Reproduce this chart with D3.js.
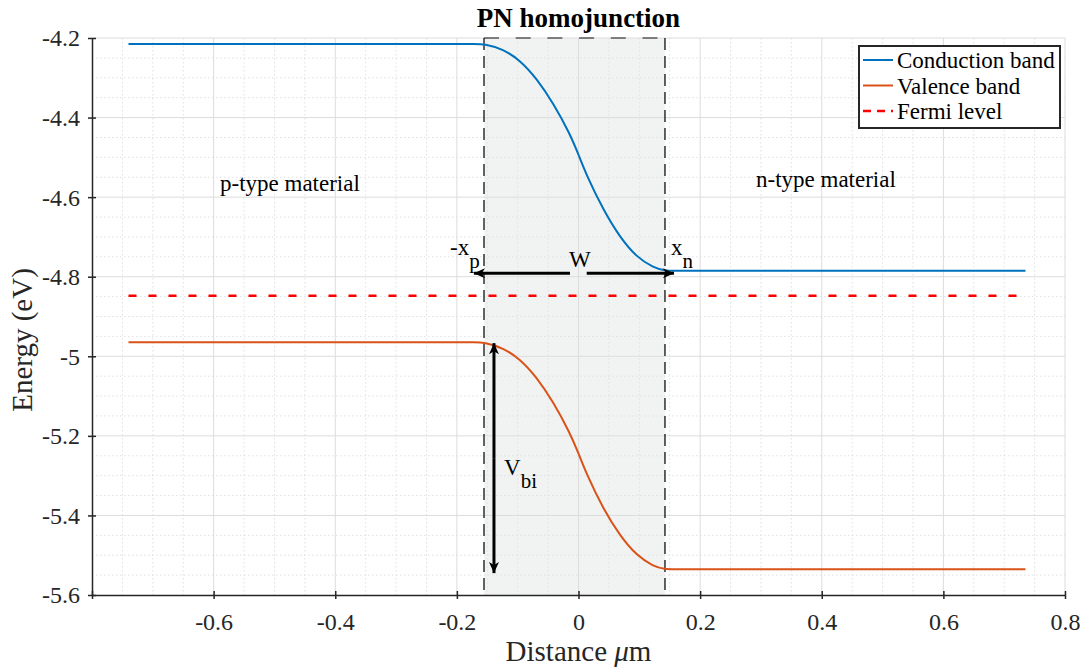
<!DOCTYPE html>
<html><head><meta charset="utf-8">
<script src="https://cdn.jsdelivr.net/npm/d3@7"></script>
<style>
html,body{margin:0;padding:0;background:#fff;}
text{font-family:"Liberation Serif","Times New Roman",serif;fill:#262626;}
</style></head>
<body><svg id="chart" width="1085" height="669"></svg>
<script>
// ---- data ----
const xTicks = [-0.8, -0.6, -0.4, -0.2, 0, 0.2, 0.4, 0.6, 0.8];
const xTickLabels = ["", "-0.6", "-0.4", "-0.2", "0", "0.2", "0.4", "0.6", "0.8"];
const yTicks = [-4.2, -4.4, -4.6, -4.8, -5, -5.2, -5.4, -5.6];
const yTickLabels = ["-4.2", "-4.4", "-4.6", "-4.8", "-5", "-5.2", "-5.4", "-5.6"];
const xBand = [-0.74, -0.20, -0.17, -0.1554, -0.1236, -0.0962, -0.0687, -0.0414, -0.014, 0, 0.0135, 0.0408, 0.0682, 0.0957, 0.123, 0.1422, 0.157, 0.19, 0.735];
const conduction = [-4.215, -4.215, -4.215, -4.215, -4.228, -4.256, -4.302, -4.364, -4.441, -4.493, -4.546, -4.632, -4.701, -4.751, -4.777, -4.785, -4.785, -4.785, -4.785];
const valence = [-4.965, -4.965, -4.965, -4.965, -4.979, -5.007, -5.053, -5.115, -5.193, -5.244, -5.297, -5.384, -5.451, -5.501, -5.528, -5.535, -5.535, -5.535, -5.535];
const xFermi = [-0.74, 0.735];
const fermi = [-4.848, -4.848];
const junction = [-0.1554, 0.1422];      // -xp, xn
const seriesNames = ["Conduction band", "Valence band", "Fermi level"];
const seriesColors = ["#0072BD", "#D95319", "#FF0000"];
// annotation anchors (data units)
const wArrowY = -4.791;
const wArrowLeft = [-0.014, -0.172];
const wArrowRight = [0.0135, 0.157];
const vbiX = -0.139;
const vbiRange = [-4.967, -5.545];

// ---- layout ----
const svg = d3.select("#chart");
const M = {l: 92, r: 1065, t: 38, b: 595};
const x = d3.scaleLinear().domain([-0.8, 0.8]).range([M.l, M.r]);
const y = d3.scaleLinear().domain([-5.6, -4.2]).range([M.b, M.t]);

// shaded depletion region
svg.append("rect")
  .attr("x", x(junction[0])).attr("y", y(-4.2))
  .attr("width", x(junction[1]) - x(junction[0])).attr("height", y(-5.6) - y(-4.2))
  .attr("fill", "#f1f3f2");

// minor grid
const minorX = d3.range(-0.75, 0.8, 0.05).filter(v => Math.abs(Math.round(v*100) % 20) !== 0);
const minorY = d3.range(-5.55, -4.2, 0.05).filter(v => Math.abs(Math.round(v*100) % 20) !== 0);
const g = svg.append("g");
g.selectAll(".mx").data(minorX).join("line")
  .attr("x1", d => x(d)).attr("x2", d => x(d)).attr("y1", M.t).attr("y2", M.b)
  .attr("stroke", "#e0e0e0").attr("stroke-width", 1).attr("stroke-dasharray", "1.5,2.5");
g.selectAll(".my").data(minorY).join("line")
  .attr("y1", d => y(d)).attr("y2", d => y(d)).attr("x1", M.l).attr("x2", M.r)
  .attr("stroke", "#e0e0e0").attr("stroke-width", 1).attr("stroke-dasharray", "1.5,2.5");
// major grid
g.selectAll(".gx").data(xTicks.slice(1)).join("line")
  .attr("x1", d => x(d)).attr("x2", d => x(d)).attr("y1", M.t).attr("y2", M.b)
  .attr("stroke", "#dcdcdc").attr("stroke-width", 1);
g.selectAll(".gy").data(yTicks.slice(0, -1)).join("line")
  .attr("y1", d => y(d)).attr("y2", d => y(d)).attr("x1", M.l).attr("x2", M.r)
  .attr("stroke", "#dcdcdc").attr("stroke-width", 1);

// dashed junction boundaries
svg.append("line").attr("x1", x(junction[0])).attr("x2", x(junction[1]))
  .attr("y1", y(-4.2)).attr("y2", y(-4.2)).attr("stroke", "#111").attr("stroke-width", 1.2).attr("stroke-dasharray", "15,16.7");
junction.forEach(j => {
  svg.append("line").attr("x1", x(j)).attr("x2", x(j)).attr("y1", y(-4.2)).attr("y2", y(-5.6))
    .attr("stroke", "#111").attr("stroke-width", 1.3).attr("stroke-dasharray", "12,6");
});

// axes
const xAxis = d3.axisBottom(x).tickValues(xTicks).tickFormat((d, i) => xTickLabels[i]).tickSize(0);
const yAxis = d3.axisLeft(y).tickValues(yTicks).tickFormat((d, i) => yTickLabels[i]).tickSize(0);
const gx = svg.append("g").attr("transform", `translate(0,${M.b})`).call(xAxis);
const gy = svg.append("g").attr("transform", `translate(${M.l},0)`).call(yAxis);
[gx, gy].forEach(a => {
  a.attr("font-family", null);
  a.select(".domain").attr("stroke", "#262626").attr("stroke-width", 1.5);
  a.selectAll("text").style("font-family", '"Liberation Serif",serif').attr("font-size", 24).attr("fill", "#262626");
});
gx.selectAll(".tick text").attr("dy", 0).attr("y", 35);
gy.selectAll(".tick text").attr("x", -12).attr("dy", "0.33em");
gx.selectAll(".tick").append("line").attr("y1", -4).attr("y2", 4).attr("stroke", "#262626").attr("stroke-width", 1.5);
gy.selectAll(".tick").append("line").attr("x1", -4).attr("x2", 4).attr("stroke", "#262626").attr("stroke-width", 1.5);

// lines
const line = d3.line().x(d => x(d[0])).y(d => y(d[1])).curve(d3.curveBasis);
svg.append("path").attr("d", line(d3.zip(xBand, conduction)))
  .attr("fill", "none").attr("stroke", seriesColors[0]).attr("stroke-width", 2);
svg.append("path").attr("d", line(d3.zip(xBand, valence)))
  .attr("fill", "none").attr("stroke", seriesColors[1]).attr("stroke-width", 2);
svg.append("path").attr("d", d3.line().x(d => x(d[0])).y(d => y(d[1]))(d3.zip(xFermi, fermi)))
  .attr("fill", "none").attr("stroke", seriesColors[2]).attr("stroke-width", 2.5).attr("stroke-dasharray", "8,12");

// arrows
function arrow(x1, y1, x2, y2) {
  svg.append("line").attr("x1", x1).attr("y1", y1).attr("x2", x2).attr("y2", y2)
    .attr("stroke", "#000").attr("stroke-width", 3);
  const ang = Math.atan2(y2 - y1, x2 - x1);
  const L = 11, W = 5, N = 3;
  const pts = [[0, 0], [-L, W], [-L + N, 0], [-L, -W]].map(([a, b]) =>
    [x2 + a * Math.cos(ang) - b * Math.sin(ang), y2 + a * Math.sin(ang) + b * Math.cos(ang)]);
  svg.append("path").attr("d", "M" + pts.join("L") + "Z").attr("fill", "#000");
}
arrow(x(wArrowLeft[0]), y(wArrowY), x(wArrowLeft[1]), y(wArrowY));
arrow(x(wArrowRight[0]), y(wArrowY), x(wArrowRight[1]), y(wArrowY));
arrow(x(vbiX), y((vbiRange[0] + vbiRange[1]) / 2), x(vbiX), y(vbiRange[0]));
arrow(x(vbiX), y((vbiRange[0] + vbiRange[1]) / 2), x(vbiX), y(vbiRange[1]));

// annotation text
const ann = svg.append("g").attr("font-size", 23).attr("fill", "#000");
function sub(xp, yp, main, s) {
  const t = ann.append("text").attr("x", xp).attr("y", yp).style("fill", "#000");
  t.append("tspan").text(main);
  t.append("tspan").attr("dy", 13).attr("font-size", 21).text(s);
}
ann.append("text").attr("x", 220).attr("y", 191).style("fill", "#000").text("p-type material");
ann.append("text").attr("x", 756).attr("y", 187).style("fill", "#000").text("n-type material");
sub(450, 255, "-x", "p");
ann.append("text").attr("x", 569).attr("y", 267).style("fill", "#000").text("W");
sub(671, 255, "x", "n");
sub(504, 475, "V", "bi");

// title & labels
svg.append("text").attr("x", (M.l + M.r) / 2).attr("y", 27).attr("text-anchor", "middle")
  .attr("font-size", 27).attr("font-weight", "bold").style("fill", "#000").text("PN homojunction");
const xl = svg.append("text").attr("x", (M.l + M.r) / 2).attr("y", 661).attr("text-anchor", "middle")
  .attr("font-size", 29);
xl.append("tspan").text("Distance ");
xl.append("tspan").attr("font-style", "italic").text("μ");
xl.append("tspan").text("m");
svg.append("text").attr("transform", `translate(32,340) rotate(-90)`)
  .attr("text-anchor", "middle").attr("font-size", 29).text("Energy (eV)");

// legend
const lg = svg.append("g").attr("transform", "translate(859,46)");
lg.append("rect").attr("width", 201).attr("height", 82).attr("fill", "#fff")
  .attr("stroke", "#262626").attr("stroke-width", 2);
seriesNames.forEach((n, i) => {
  const yy = 14 + i * 25.5;
  lg.append("line").attr("x1", 4).attr("x2", 34).attr("y1", yy).attr("y2", yy)
    .attr("stroke", seriesColors[i]).attr("stroke-width", i === 2 ? 2.5 : 2)
    .attr("stroke-dasharray", i === 2 ? "8,6" : null);
  lg.append("text").attr("x", 38).attr("y", yy + 8).attr("font-size", 23).style("fill", "#000").text(n);
});
</script></body></html>
